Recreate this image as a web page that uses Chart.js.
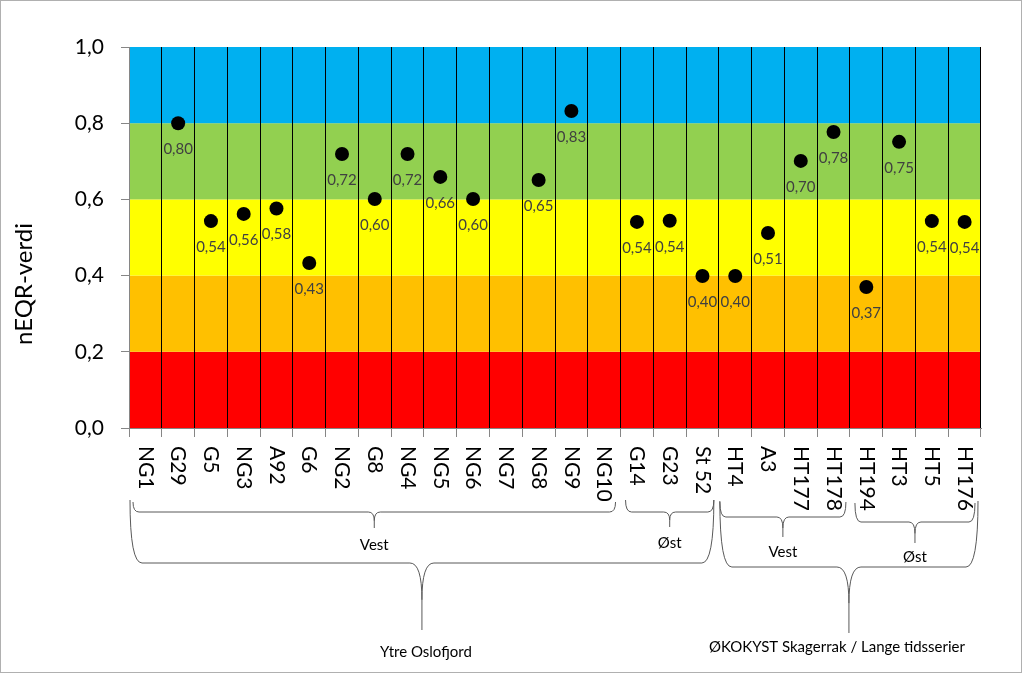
<!DOCTYPE html>
<html>
<head>
<meta charset="utf-8">
<script src="https://cdn.jsdelivr.net/npm/chart.js@4.4.1/dist/chart.umd.min.js"></script>
<style>
  html, body { margin: 0; padding: 0; background: #fff; }
  #wrap { width: 1024px; height: 674px; }
</style>
</head>
<body>
<div id="wrap"><canvas id="myChart" width="1024" height="674"></canvas></div>
<script>
// stations along the x axis
var categories = ['NG1', 'G29', 'G5', 'NG3', 'A92', 'G6', 'NG2', 'G8', 'NG4', 'NG5', 'NG6', 'NG7', 'NG8', 'NG9', 'NG10',
    'G14', 'G23', 'St 52', 'HT4', 'A3', 'HT177', 'HT178', 'HT194', 'HT3', 'HT5', 'HT176'];
// nEQR per station (null = no value)
var nEQR = [null, 0.80, 0.543, 0.562, 0.576, 0.433, 0.719, 0.601, 0.719, 0.659, 0.601, null, 0.651, 0.832, null,
    0.541, 0.544, 0.399, 0.399, 0.512, 0.701, 0.777, 0.370, 0.751, 0.543, 0.541];
// class limits for the coloured bands
var classLimits = [0, 0.2, 0.4, 0.6, 0.8, 1.0];
var yTicks = [0, 0.2, 0.4, 0.6, 0.8, 1.0];
var yTitle = 'nEQR-verdi';
// station groups (index of first and last station)
var subGroups = [
    { name: 'Vest', first: 0, last: 14 },
    { name: 'Øst', first: 15, last: 17 },
    { name: 'Vest', first: 18, last: 21 },
    { name: 'Øst', first: 22, last: 25 }
];
var mainGroups = [
    { name: 'Ytre Oslofjord', first: 0, last: 17 },
    { name: 'ØKOKYST Skagerrak / Lange tidsserier', first: 18, last: 25 }
];

var bandColors = ['#FF0000', '#FFC000', '#FFFF00', '#92D050', '#00B0F0'];
var fontFamily = 'Lato, "Open Sans", sans-serif';
// brace drawing: [yTop, yBar, yTip, yText, insetLeft, insetRight]
var subBraceStyle = [
    [502, 512, 528, 545, 4, 5],
    [500, 512, 527, 543, 5, 5],
    [502, 517, 537, 552, 1, 4],
    [503, 522, 543, 557, 5, 6]
];
var mainBraceStyle = [
    [500, 563, 630, 652, 1, 5],
    [501, 567, 633, 647, 1, 3]
];

function fmt(v, d) {
    return v.toFixed(d).replace('.', ',');
}

function drawBrace(ctx, x1, x2, yTop, yBar, yTip, r, rt) {
    var tipX = (x1 + x2) / 2;
    var mid = yBar + (yTip - yBar) * 0.55;
    ctx.beginPath();
    ctx.moveTo(x1, yTop);
    ctx.quadraticCurveTo(x1, yBar, x1 + r, yBar);
    ctx.lineTo(tipX - rt, yBar);
    ctx.quadraticCurveTo(tipX, yBar, tipX, mid);
    ctx.lineTo(tipX, yTip);
    ctx.moveTo(tipX, mid);
    ctx.quadraticCurveTo(tipX, yBar, tipX + rt, yBar);
    ctx.lineTo(x2 - r, yBar);
    ctx.quadraticCurveTo(x2, yBar, x2, yTop);
    ctx.stroke();
}

var bandsPlugin = {
    id: 'bands',
    beforeDraw: function(chart) {
        var ctx = chart.ctx;
        var area = chart.chartArea;
        var y = chart.scales.y;
        ctx.save();
        ctx.fillStyle = '#ffffff';
        ctx.fillRect(0, 0, chart.width, chart.height);
        for (var i = 0; i < classLimits.length - 1; i++) {
            var top = y.getPixelForValue(classLimits[i + 1]);
            var bottom = y.getPixelForValue(classLimits[i]);
            ctx.fillStyle = bandColors[i];
            ctx.fillRect(area.left, top, area.right - area.left, bottom - top);
        }
        ctx.restore();
    }
};

var valueLabelsPlugin = {
    id: 'valueLabels',
    afterDatasetsDraw: function(chart) {
        var ctx = chart.ctx;
        var meta = chart.getDatasetMeta(0);
        ctx.save();
        ctx.font = '15px ' + fontFamily;
        ctx.fillStyle = '#404040';
        ctx.textAlign = 'center';
        ctx.textBaseline = 'middle';
        meta.data.forEach(function(pt, i) {
            if (nEQR[i] === null) return;
            ctx.fillText(fmt(nEQR[i], 2), pt.x, pt.y + 26);
        });
        ctx.restore();
    }
};

var labelsAndBracesPlugin = {
    id: 'labelsAndBraces',
    afterDraw: function(chart) {
        var ctx = chart.ctx;
        var x = chart.scales.x;
        var half = (x.getPixelForValue(1) - x.getPixelForValue(0)) / 2;
        ctx.save();
        // y axis title (placed off-centre as in the original)
        ctx.fillStyle = '#000';
        ctx.font = '24px ' + fontFamily;
        ctx.textAlign = 'center';
        ctx.textBaseline = 'middle';
        ctx.save();
        ctx.translate(24, 284);
        ctx.rotate(-Math.PI / 2);
        ctx.fillText(yTitle, 0, 0);
        ctx.restore();
        // rotated station names
        ctx.font = '21px ' + fontFamily;
        ctx.textAlign = 'left';
        for (var i = 0; i < categories.length; i++) {
            ctx.save();
            ctx.translate(x.getPixelForValue(i), 446);
            ctx.rotate(Math.PI / 2);
            ctx.fillText(categories[i], 0, 0);
            ctx.restore();
        }
        // braces
        ctx.strokeStyle = '#595959';
        ctx.lineWidth = 1;
        ctx.font = '15px ' + fontFamily;
        ctx.textAlign = 'center';
        subGroups.forEach(function(g, k) {
            var s = subBraceStyle[k];
            var x1 = x.getPixelForValue(g.first) - half + s[4];
            var x2 = x.getPixelForValue(g.last) + half - s[5];
            drawBrace(ctx, x1, x2, s[0], s[1], s[2], 6, 6);
            ctx.fillText(g.name, (x1 + x2) / 2, s[3]);
        });
        mainGroups.forEach(function(g, k) {
            var s = mainBraceStyle[k];
            var x1 = x.getPixelForValue(g.first) - half + s[4];
            var x2 = x.getPixelForValue(g.last) + half - s[5];
            drawBrace(ctx, x1, x2, s[0], s[1], s[2], 12, 12);
            ctx.fillText(g.name, (x1 + x2) / 2 - (k ? 12 : -4), s[3]);
        });
        // outer frame
        ctx.strokeStyle = '#b0b0b0';
        ctx.strokeRect(0.5, 0.5, 1021, 672);
        ctx.restore();
    }
};

var ctx = document.getElementById('myChart').getContext('2d');
var myChart = new Chart(ctx, {
    type: 'line',
    data: {
        labels: categories,
        datasets: [{
            label: 'nEQR',
            data: nEQR,
            showLine: false,
            pointRadius: 7,
            pointHoverRadius: 7,
            pointBackgroundColor: '#000',
            pointBorderColor: '#000',
            pointBorderWidth: 0
        }]
    },
    options: {
        responsive: false,
        animation: false,
        events: [],
        layout: { padding: { left: 0, top: 47, right: 43, bottom: 0 } },
        plugins: {
            legend: { display: false },
            tooltip: { enabled: false }
        },
        scales: {
            x: {
                offset: true,
                grid: {
                    offset: true,
                    color: '#000',
                    lineWidth: 1,
                    tickColor: '#868686',
                    tickLength: 9
                },
                border: { display: true, color: '#868686' },
                ticks: { display: false },
                afterFit: function(scale) { scale.height = 246; }
            },
            y: {
                min: 0,
                max: 1,
                afterBuildTicks: function(scale) {
                    scale.ticks = yTicks.map(function(v) { return { value: v }; });
                },
                ticks: {
                    padding: 17,
                    color: '#000',
                    font: { family: fontFamily, size: 21 },
                    callback: function(v) { return fmt(v, 1); }
                },
                grid: {
                    drawOnChartArea: false,
                    tickColor: '#868686',
                    tickLength: 8
                },
                border: { display: true, color: '#868686' },
                afterFit: function(scale) { scale.width = 129; }
            }
        }
    },
    plugins: [bandsPlugin, valueLabelsPlugin, labelsAndBracesPlugin]
});
</script>
</body>
</html>
